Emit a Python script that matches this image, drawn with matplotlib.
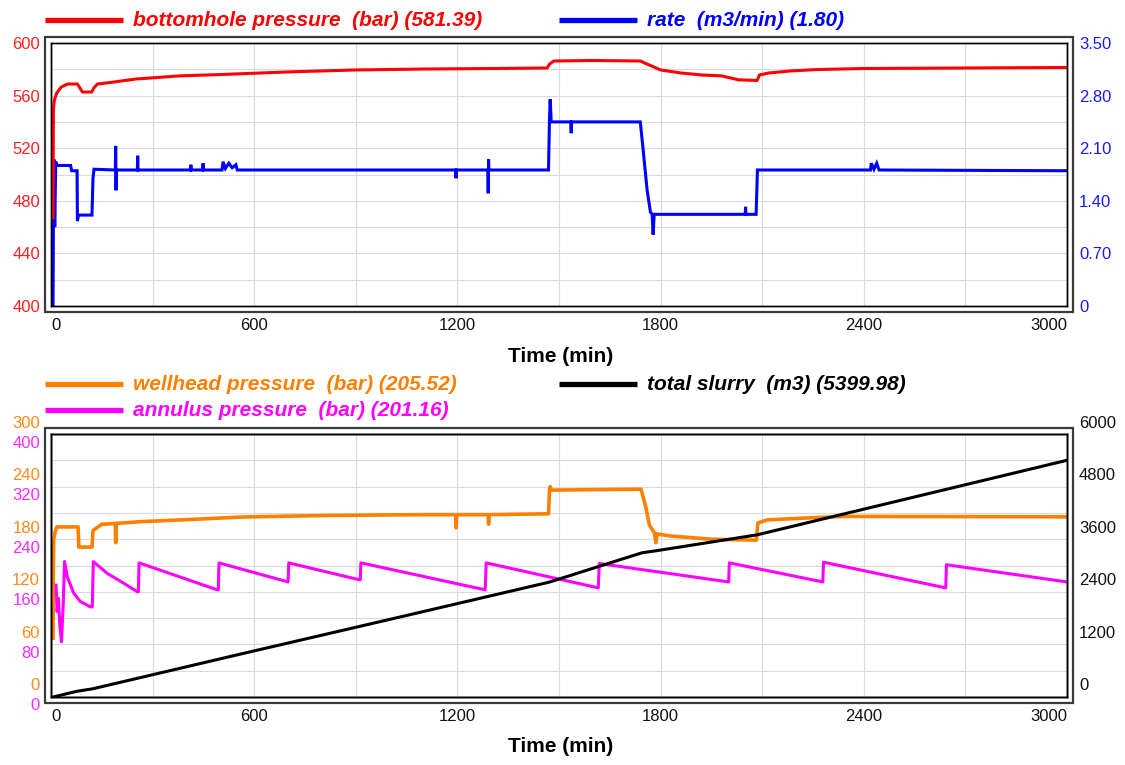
import matplotlib
matplotlib.use("Agg")
import matplotlib.pyplot as plt
from matplotlib.lines import Line2D
from matplotlib.patches import Rectangle
from matplotlib.transforms import blended_transform_factory, offset_copy

plt.rcParams['font.family'] = ['Liberation Sans', 'DejaVu Sans']

# ---------------- data ----------------
# bottomhole pressure (bar)
bhp_t = [6, 7, 8, 10, 17, 30, 49, 78, 86, 93, 120, 127, 137, 170, 250, 380, 500,
         700, 900, 1100, 1300, 1465, 1472, 1485, 1600, 1740, 1760, 1800, 1860,
         1920, 1980, 2030, 2085, 2092, 2120, 2180, 2260, 2400, 2700, 3000]
bhp_v = [467, 547, 552, 556.7, 562, 566.5, 568.8, 568.8, 565.5, 562.7, 562.7, 566,
         568.8, 569.8, 572.6, 575, 576, 578, 579.5, 580.2, 580.6, 581, 584, 586.3,
         586.7, 586.3, 584, 579.5, 577.2, 575.7, 575, 572, 571.5, 575.7, 577.2,
         578.7, 579.8, 580.6, 581, 581.39]

# pump rate (m3/min)
rate_t = [6, 7, 9, 11, 14, 18, 58, 61, 77, 78, 81, 121, 124, 127, 190, 191, 192, 193,
          255, 256, 257, 412, 413, 414, 448, 449, 450, 505, 508, 515, 525, 535, 546,
          550, 1195, 1196, 1197, 1290, 1291, 1292, 1293, 1469, 1472, 1474, 1477,
          1535, 1536, 1537, 1740, 1748, 1760, 1770, 1775, 1778, 1781, 2050, 2051,
          2052, 2082, 2086, 2420, 2422, 2430, 2438, 2445, 3000]
rate_v = [0, 1.0, 1.95, 1.05, 1.92, 1.87, 1.87, 1.80, 1.80, 1.13, 1.21, 1.21, 1.70,
          1.82, 1.81, 2.13, 1.54, 1.81, 1.81, 2.0, 1.81, 1.81, 1.88, 1.81, 1.81, 1.9,
          1.81, 1.81, 1.92, 1.83, 1.9, 1.84, 1.88, 1.81, 1.81, 1.70, 1.81, 1.81, 1.50,
          1.95, 1.81, 1.81, 2.50, 2.75, 2.45, 2.45, 2.30, 2.45, 2.45, 2.1, 1.55, 1.25,
          1.22, 0.95, 1.22, 1.22, 1.32, 1.22, 1.22, 1.81, 1.81, 1.9, 1.82, 1.9, 1.81,
          1.80]

# wellhead pressure (bar)
whp_t = [6, 7, 8, 12, 17, 80, 82, 121, 124, 150, 190, 191, 193, 265, 442, 561, 800,
         1100, 1195, 1196, 1198, 1291, 1292, 1294, 1469, 1472, 1474, 1477, 1600,
         1742, 1755, 1767, 1782, 1786, 1789, 1830, 1950, 2070, 2083, 2087, 2115,
         2220, 2340, 3000]
whp_v = [67, 150, 180, 188, 194, 194, 171, 171, 190, 197, 198, 176, 198, 200, 203,
         205.3, 207, 208, 208, 193, 208, 208, 197, 208, 209, 236, 240, 236, 236.5,
         237, 219, 196, 187, 176, 186, 183.6, 180, 179, 179, 198.5, 202, 204, 206,
         205.52]

# annulus pressure (bar)
ann_t = [15, 18, 22, 26, 31, 36, 40, 48, 67, 87, 117, 122, 125, 166, 215, 255, 258,
         260, 491, 494, 496, 700, 702, 913, 915, 1282, 1285, 1616, 1619, 2001, 2003,
         2279, 2281, 2642, 2644, 3000]
ann_v = [170, 130, 150, 110, 84, 140, 206, 183, 158, 145, 137, 137, 206, 188, 173,
         160, 160, 204, 163, 163, 204, 175, 204, 178, 204, 163, 204, 166, 203, 175,
         204, 175, 205, 166, 201.16, 175]

# cumulative slurry volume (m3)
slurry_t = [6, 60, 80, 122, 560, 1000, 1471, 1745, 1790, 2085, 3000]
slurry_v = [0, 100, 135, 185, 980, 1770, 2620, 3290, 3340, 3700, 5400]

time_ticks = [0, 600, 1200, 1800, 2400, 3000]
time_grid = [300, 900, 1500, 2100, 2700]
bhp_ticks = [400, 440, 480, 520, 560, 600]
rate_ticks = [0, 0.70, 1.40, 2.10, 2.80, 3.50]
rate_labels = ['0', '0.70', '1.40', '2.10', '2.80', '3.50']
whp_ticks = [0, 60, 120, 180, 240, 300]
ann_ticks = [0, 80, 160, 240, 320, 400]
slurry_ticks = [0, 1200, 2400, 3600, 4800, 6000]

bhp_label = 'bottomhole pressure  (bar) (581.39)'
rate_label = 'rate  (m3/min) (1.80)'
whp_label = 'wellhead pressure  (bar) (205.52)'
ann_label = 'annulus pressure  (bar) (201.16)'
slurry_label = 'total slurry  (m3) (5399.98)'
x_label = 'Time (min)'

# ---------------- styles ----------------
RED, BLUE, ORANGE, MAGENTA, BLACK = '#ff0000', '#0000ff', '#ff8000', '#ff00ff', '#000000'
W, H = 1125, 765
LW = 2.2
TICK_FS = 12
LEG_FS = 15

fig = plt.figure(figsize=(W / 100, H / 100), dpi=100)


def rect(x0, y0, x1, y1):
    return [x0 / W, 1 - y1 / H, (x1 - x0) / W, (y1 - y0) / H]


def style_frame(ax):
    for s in ax.spines.values():
        s.set_color('black')
        s.set_linewidth(1.0)


def add_outer(x0, y0, x1, y1):
    fig.patches.append(Rectangle((x0 / W, 1 - y1 / H), (x1 - x0) / W, (y1 - y0) / H,
                                 transform=fig.transFigure, fill=False,
                                 edgecolor='#3a3a3a', linewidth=1.6))


def time_axis(ax, label_y):
    ax.set_xlim(0, 3000)
    ax.set_xticks(time_ticks)
    ax.set_xticks(time_grid, minor=True)
    ax.set_xticklabels([str(t) for t in time_ticks])
    ax.tick_params(axis='x', which='both', length=0, pad=8.5, labelsize=TICK_FS,
                   labelcolor='#111111')
    labs = ax.get_xticklabels()
    labs[0].set_ha('left')
    labs[-1].set_ha('right')
    fig.text(561 / W, 1 - label_y / H, x_label, ha='center', va='center',
             fontsize=15, fontweight='bold')


def grid_on(ax, lo, hi):
    step = (hi - lo) / 10
    ax.set_yticks([lo + i * step for i in range(11)], minor=True)
    ax.grid(True, which='both', color='#dadada', linewidth=0.8)
    ax.tick_params(axis='y', which='both', length=0)
    ax.set_axisbelow(True)


def legend_entry(x, y, color, text):
    fig.add_artist(Line2D([x / W, (x + 78) / W], [1 - y / H, 1 - y / H],
                          transform=fig.transFigure, color=color, linewidth=3.8,
                          solid_capstyle='butt'))
    fig.text((x + 88) / W, 1 - y / H, text, color=color, fontsize=LEG_FS,
             fontweight='bold', fontstyle='italic', ha='left', va='center')


# ---------------- top panel ----------------
ax_rate = fig.add_axes(rect(51, 43, 1067, 306))
ax_p = ax_rate.twinx()
ax_p.set_zorder(ax_rate.get_zorder() + 1)
ax_p.patch.set_visible(False)

ax_rate.yaxis.tick_right()
ax_rate.set_ylim(0, 3.5)
ax_rate.set_yticks(rate_ticks)
ax_rate.set_yticklabels(rate_labels)
grid_on(ax_rate, 0, 3.5)
ax_rate.tick_params(axis='y', which='major', labelsize=TICK_FS, labelcolor='#1a1aff',
                    pad=8.6, labelleft=False, labelright=True)
ax_rate.plot(rate_t, rate_v, color=BLUE, linewidth=LW, solid_joinstyle='miter')

ax_p.yaxis.tick_left()
ax_p.set_ylim(400, 600)
ax_p.set_yticks(bhp_ticks)
ax_p.tick_params(axis='y', length=0, labelsize=TICK_FS, labelcolor='#ff2020', pad=7.9,
                 labelleft=True, labelright=False)
ax_p.plot(bhp_t, bhp_v, color=RED, linewidth=LW)

time_axis(ax_rate, 357)
for a in (ax_rate, ax_p):
    style_frame(a)
add_outer(45, 37, 1073, 312)

legend_entry(45, 20, RED, bhp_label)
legend_entry(559, 20, BLUE, rate_label)

# ---------------- bottom panel ----------------
ax_w = fig.add_axes(rect(51, 434, 1067, 697))
ax_a = ax_w.twinx()
ax_s = ax_w.twinx()
for a in (ax_a, ax_s):
    a.patch.set_visible(False)

ax_w.set_ylim(0, 300)
ax_a.set_ylim(0, 400)
ax_s.set_ylim(0, 6000)
grid_on(ax_w, 0, 300)
for a in (ax_w, ax_a, ax_s):
    a.set_yticks([])
    a.tick_params(axis='y', which='both', length=0, labelleft=False, labelright=False)
ax_w.set_yticks([0, 30, 60, 90, 120, 150, 180, 210, 240, 270, 300], minor=True)

ax_w.plot(whp_t, whp_v, color=ORANGE, linewidth=LW + 0.4)
ax_a.plot(ann_t, ann_v, color=MAGENTA, linewidth=LW)
ax_s.plot(slurry_t, slurry_v, color=BLACK, linewidth=LW)

# stacked tick labels: wellhead above, annulus below each gridline
left_x = (40 - 51) / 1016
right_x = (1079 - 51) / 1016
for ax, ticks, color, dy, xpos, ha in (
        (ax_w, whp_ticks, '#ff8a1a', 11, left_x, 'right'),
        (ax_a, ann_ticks, '#ff2aff', -9, left_x, 'right'),
        (ax_s, slurry_ticks, '#111111', 11, right_x, 'left')):
    tr = offset_copy(blended_transform_factory(ax.transAxes, ax.transData),
                     fig=fig, x=0, y=dy, units='dots')
    for v in ticks:
        ax.text(xpos, v, f'{v:g}', transform=tr, color=color, fontsize=TICK_FS,
                ha=ha, va='center', clip_on=False)

time_axis(ax_w, 747)
for a in (ax_w, ax_a, ax_s):
    style_frame(a)
add_outer(45, 428, 1073, 703)

legend_entry(45, 384, ORANGE, whp_label)
legend_entry(45, 410, MAGENTA, ann_label)
legend_entry(559, 384, BLACK, slurry_label)

fig.savefig('out.png', dpi=100)
